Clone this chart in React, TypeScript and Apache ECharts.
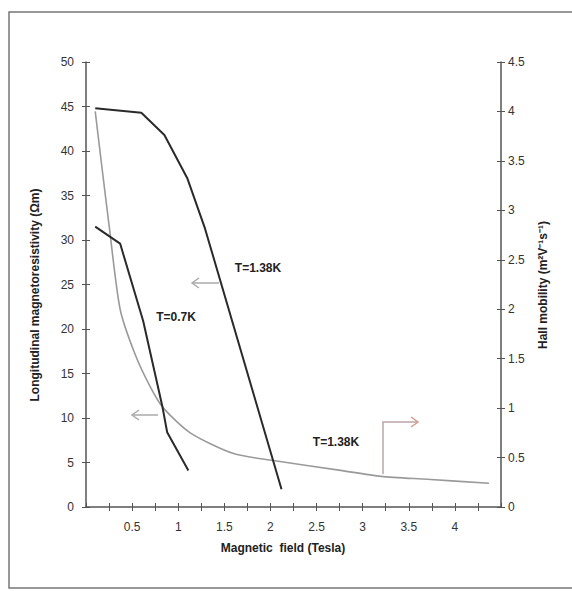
import React, { useEffect, useRef } from "react";
import * as echarts from "echarts";

// T = 1.38 K longitudinal magnetoresistivity (left axis)
const fieldT138 = [0.1, 0.6, 0.85, 1.1, 1.29, 2.12];
const rhoT138 = [44.8, 44.3, 41.8, 36.9, 31.3, 2.0];

// T = 0.7 K longitudinal magnetoresistivity (left axis)
const fieldT07 = [0.1, 0.37, 0.62, 0.83, 0.88, 1.11];
const rhoT07 = [31.5, 29.6, 20.9, 11.2, 8.4, 4.1];

// Hall mobility at T = 1.38 K (right axis)
const fieldHall = [0.1, 0.18, 0.25, 0.37, 0.53, 0.7, 0.84, 1.13, 1.6, 2.03, 2.76, 3.2, 3.7, 4.37];
const hallMobility = [4.0, 3.38, 2.85, 2.0, 1.55, 1.21, 1.0, 0.75, 0.54, 0.47, 0.37, 0.31, 0.28, 0.24];

const xLabels = ["0.5", "1", "1.5", "2", "2.5", "3", "3.5", "4"];

const zip = (a: number[], b: number[]) => a.map((v, i) => [v, b[i]]);

const FONT = "'Liberation Sans Narrow', 'Liberation Sans', Arial, sans-serif";
const AXIS_COLOR = "#555";

export default function App() {
  const ref = useRef<HTMLDivElement>(null);
  useEffect(() => {
    if (!ref.current) return;
    const chart = echarts.init(ref.current, undefined, { renderer: "svg" });
    const arrowColor = "#aaa";
    const option: any = {
      animation: false,
      backgroundColor: "#fff",
      grid: { left: 86, right: 71, top: 62, bottom: 84, containLabel: false },
      xAxis: [
        {
          type: "value",
          min: 0,
          max: 4.5,
          interval: 0.25,
          splitLine: { show: false },
          axisLine: { onZero: false, lineStyle: { color: AXIS_COLOR, width: 1.5 } },
          axisTick: { show: true, inside: false, length: 4, lineStyle: { color: AXIS_COLOR } },
          axisLabel: {
            margin: 14,
            color: "#333",
            fontSize: 12,
            fontFamily: FONT,
            showMinLabel: false,
            showMaxLabel: false,
            formatter: (v: number) => {
              const s = String(Math.round(v * 100) / 100);
              return xLabels.includes(s) ? s : "";
            },
          },
        },
        {
          type: "value",
          min: 0,
          max: 4.5,
          interval: 0.25,
          position: "bottom",
          splitLine: { show: false },
          axisLine: { show: false, onZero: false },
          axisTick: { show: true, inside: true, length: 4, lineStyle: { color: AXIS_COLOR } },
          axisLabel: { show: false },
        },
      ],
      yAxis: [
        {
          type: "value",
          min: 0,
          max: 50,
          interval: 5,
          position: "left",
          splitLine: { show: false },
          axisLine: { show: true, onZero: false, lineStyle: { color: AXIS_COLOR, width: 1.5 } },
          axisTick: { show: true, inside: false, length: 4, lineStyle: { color: AXIS_COLOR } },
          axisLabel: { margin: 12, color: "#333", fontSize: 12, fontFamily: FONT },
        },
        {
          type: "value",
          min: 0,
          max: 4.5,
          interval: 0.5,
          position: "right",
          splitLine: { show: false },
          axisLine: { show: true, onZero: false, lineStyle: { color: AXIS_COLOR, width: 1.5 } },
          axisTick: { show: true, inside: false, length: 4, lineStyle: { color: AXIS_COLOR } },
          axisLabel: { margin: 7, color: "#333", fontSize: 12, fontFamily: FONT },
        },
        {
          type: "value",
          min: 0,
          max: 50,
          interval: 5,
          position: "left",
          splitLine: { show: false },
          axisLine: { show: false, onZero: false },
          axisTick: { show: true, inside: true, length: 4, lineStyle: { color: AXIS_COLOR } },
          axisLabel: { show: false },
        },
        {
          type: "value",
          min: 0,
          max: 4.5,
          interval: 0.5,
          position: "right",
          splitLine: { show: false },
          axisLine: { show: false, onZero: false },
          axisTick: { show: true, inside: true, length: 4, lineStyle: { color: AXIS_COLOR } },
          axisLabel: { show: false },
        },
      ],
      series: [
        {
          name: "Hall mobility T=1.38K",
          type: "line",
          xAxisIndex: 0,
          yAxisIndex: 1,
          data: zip(fieldHall, hallMobility),
          smooth: 0.25,
          showSymbol: false,
          lineStyle: { color: "#9a9a9a", width: 1.6 },
          z: 2,
        },
        {
          name: "T=1.38K",
          type: "line",
          xAxisIndex: 0,
          yAxisIndex: 0,
          data: zip(fieldT138, rhoT138),
          showSymbol: false,
          lineStyle: { color: "#2a2a2a", width: 2 },
          z: 3,
        },
        {
          name: "T=0.7K",
          type: "line",
          xAxisIndex: 0,
          yAxisIndex: 0,
          data: zip(fieldT07, rhoT07),
          showSymbol: false,
          lineStyle: { color: "#2a2a2a", width: 2 },
          z: 3,
        },
      ],
      graphic: [
        {
          type: "rect",
          shape: { x: 9, y: 12, width: 620, height: 576 },
          style: { fill: "none", stroke: "#777", lineWidth: 1.5 },
          silent: true,
        },
        {
          type: "text",
          x: 35,
          y: 295,
          rotation: Math.PI / 2,
          style: {
            text: "Longitudinal magnetoresistivity (Ωm)",
            fill: "#222",
            font: `bold 12px ${FONT}`,
            align: "center",
            verticalAlign: "middle",
          },
        },
        {
          type: "text",
          x: 543,
          y: 285,
          rotation: Math.PI / 2,
          style: {
            text: "Hall mobility (m²V⁻¹s⁻¹)",
            fill: "#222",
            font: `bold 12px ${FONT}`,
            align: "center",
            verticalAlign: "middle",
          },
        },
        {
          type: "text",
          x: 283,
          y: 548,
          style: {
            text: "Magnetic  field (Tesla)",
            fill: "#222",
            font: `bold 12px ${FONT}`,
            align: "center",
            verticalAlign: "middle",
          },
        },
        {
          type: "text",
          x: 258,
          y: 268,
          style: { text: "T=1.38K", fill: "#222", font: `bold 12px ${FONT}`, align: "center", verticalAlign: "middle" },
        },
        {
          type: "text",
          x: 176,
          y: 317,
          style: { text: "T=0.7K", fill: "#222", font: `bold 12px ${FONT}`, align: "center", verticalAlign: "middle" },
        },
        {
          type: "text",
          x: 336,
          y: 442,
          style: { text: "T=1.38K", fill: "#222", font: `bold 12px ${FONT}`, align: "center", verticalAlign: "middle" },
        },
        // arrow pointing left (T=1.38K resistivity -> left axis)
        { type: "line", shape: { x1: 219, y1: 283, x2: 192, y2: 283 }, style: { stroke: arrowColor, lineWidth: 1.5 } },
        { type: "polyline", shape: { points: [[199, 278], [192, 283], [199, 288]] }, style: { stroke: arrowColor, fill: "none", lineWidth: 1.5 } },
        // arrow pointing left (T=0.7K -> left axis)
        { type: "line", shape: { x1: 158, y1: 415, x2: 132, y2: 415 }, style: { stroke: arrowColor, lineWidth: 1.5 } },
        { type: "polyline", shape: { points: [[139, 410], [132, 415], [139, 420]] }, style: { stroke: arrowColor, fill: "none", lineWidth: 1.5 } },
        // arrow pointing right (Hall mobility -> right axis)
        {
          type: "polyline",
          shape: { points: [[383, 474], [383, 422], [418, 422]] },
          style: { stroke: "#b9a6a6", fill: "none", lineWidth: 1.5 },
        },
        { type: "polyline", shape: { points: [[411, 417], [418, 422], [411, 427]] }, style: { stroke: "#d99a8a", fill: "none", lineWidth: 1.5 } },
      ],
    };
    chart.setOption(option);
    return () => chart.dispose();
  }, []);
  return (
    <div
      ref={ref}
      style={{ position: "fixed", left: 0, top: 0, width: 572, height: 591, background: "#fff" }}
    />
  );
}
